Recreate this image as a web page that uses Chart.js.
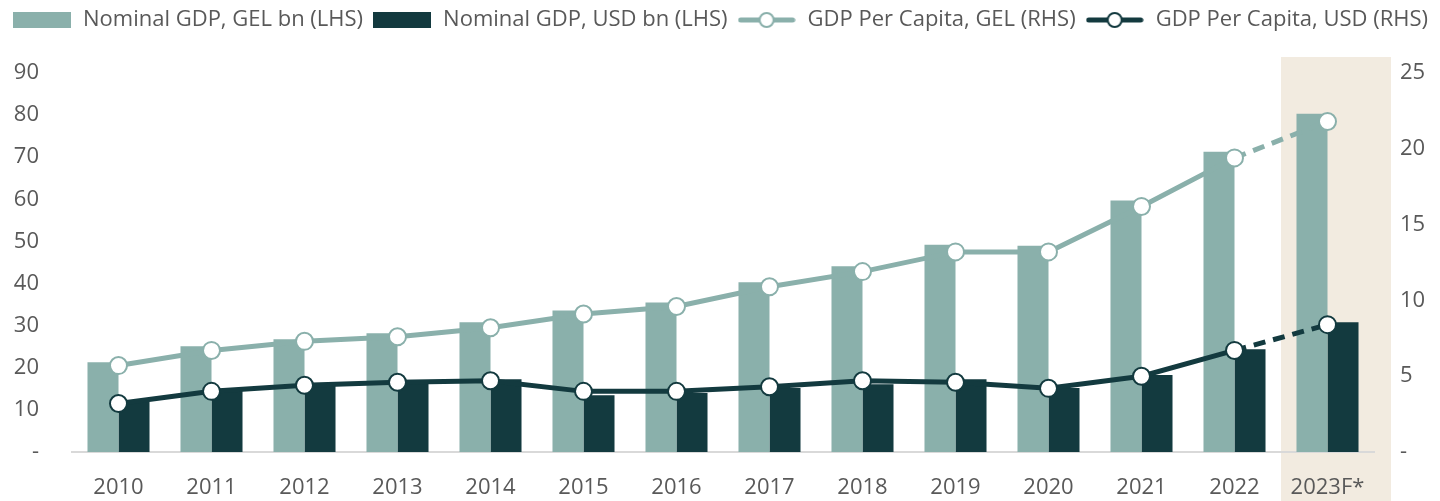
<!DOCTYPE html>
<html>
<head>
<meta charset="utf-8">
<script src="https://cdn.jsdelivr.net/npm/chart.js@4"></script>
<style>
  html, body { margin: 0; padding: 0; background: #fff; }
  #wrap { width: 1440px; height: 501px; }
</style>
</head>
<body>
<div id="wrap"><canvas id="gdpChart"></canvas></div>
<script>
const years = ['2010', '2011', '2012', '2013', '2014', '2015', '2016', '2017', '2018', '2019', '2020', '2021', '2022', '2023F*'];
const gdpGel = [21.3, 25.1, 26.8, 28.2, 30.8, 33.6, 35.5, 40.3, 44.1, 49.2, 49.0, 59.7, 71.3, 80.3];
const gdpUsd = [11.9, 15.0, 16.4, 17.1, 17.3, 13.5, 14.0, 15.2, 16.1, 17.3, 15.2, 18.3, 24.4, 30.8];
const perCapitaGel = [5.7, 6.7, 7.3, 7.6, 8.2, 9.1, 9.6, 10.9, 11.9, 13.2, 13.2, 16.2, 19.4, 21.8];
const perCapitaUsd = [3.2, 4.0, 4.4, 4.6, 4.7, 4.0, 4.0, 4.3, 4.7, 4.6, 4.2, 5.0, 6.7, 8.4];
const leftTicks = [0, 10, 20, 30, 40, 50, 60, 70, 80, 90];
const rightTicks = [0, 5, 10, 15, 20, 25];
const forecastIndex = 13;

const light = '#8AB0AB';
const dark = '#133A3F';
const textColor = '#595959';
const font = '"Open Sans", "Noto Sans", sans-serif';

// legend icons
function barIcon(color) {
    const c = document.createElement('canvas');
    c.width = 58; c.height = 16;
    const g = c.getContext('2d');
    g.fillStyle = color;
    g.fillRect(0, 0, 58, 16);
    return c;
}
function lineIcon(color) {
    const c = document.createElement('canvas');
    c.width = 58; c.height = 18;
    const g = c.getContext('2d');
    g.strokeStyle = color;
    g.lineWidth = 5;
    g.lineCap = 'round';
    g.beginPath();
    g.moveTo(3, 9); g.lineTo(55, 9);
    g.stroke();
    g.beginPath();
    g.arc(29, 9, 7, 0, Math.PI * 2);
    g.fillStyle = '#fff';
    g.fill();
    g.lineWidth = 2;
    g.stroke();
    return c;
}

const forecastShade = {
    id: 'forecastShade',
    afterInit(chart) {
        // leave room under the legend like the original
        const legend = chart.legend;
        const fit = legend.fit;
        legend.fit = function () {
            fit.call(this);
            this.height = 73;
        };
    },
    beforeDraw(chart) {
        const x = chart.scales.x;
        const y = chart.scales.y;
        const ctx = chart.ctx;
        const step = x.getPixelForValue(1) - x.getPixelForValue(0);
        const left = x.getPixelForValue(forecastIndex) - step / 2;
        const right = chart.chartArea.right + 17;
        const top = y.getPixelForValue(90) - 16;
        ctx.save();
        ctx.fillStyle = '#F2EBE0';
        ctx.fillRect(left, top, right - left, chart.height - top);
        ctx.restore();
    }
};

const dashForecast = ctx => ctx.p1DataIndex === forecastIndex ? [12, 8] : undefined;

const icons = [barIcon(light), barIcon(dark), lineIcon(light), lineIcon(dark)];

new Chart(document.getElementById('gdpChart'), {
    data: {
        labels: years,
        datasets: [
            {
                type: 'bar',
                label: 'Nominal GDP, GEL bn (LHS)',
                data: gdpGel,
                backgroundColor: light,
                yAxisID: 'y',
                order: 1,
                categoryPercentage: 0.667,
                barPercentage: 1
            },
            {
                type: 'bar',
                label: 'Nominal GDP, USD bn (LHS)',
                data: gdpUsd,
                backgroundColor: dark,
                yAxisID: 'y',
                order: 1,
                categoryPercentage: 0.667,
                barPercentage: 1
            },
            {
                type: 'line',
                label: 'GDP Per Capita, GEL (RHS)',
                data: perCapitaGel,
                borderColor: light,
                borderWidth: 5,
                pointRadius: 8.5,
                pointBorderWidth: 2,
                pointBackgroundColor: '#fff',
                pointBorderColor: light,
                yAxisID: 'y1',
                order: 0,
                segment: { borderDash: dashForecast }
            },
            {
                type: 'line',
                label: 'GDP Per Capita, USD (RHS)',
                data: perCapitaUsd,
                borderColor: dark,
                borderWidth: 5,
                pointRadius: 8.5,
                pointBorderWidth: 2,
                pointBackgroundColor: '#fff',
                pointBorderColor: dark,
                yAxisID: 'y1',
                order: 0,
                segment: { borderDash: dashForecast }
            }
        ]
    },
    options: {
        responsive: true,
        maintainAspectRatio: false,
        animation: false,
        layout: { padding: 0 },
        plugins: {
            tooltip: { enabled: false },
            legend: {
                position: 'top',
                labels: {
                    usePointStyle: true,
                    pointStyleWidth: 60,
                    padding: 9,
                    color: textColor,
                    font: { family: font, size: 22 },
                    generateLabels(chart) {
                        return chart.data.datasets.map((ds, i) => ({
                            text: ds.label,
                            pointStyle: icons[i],
                            fontColor: textColor,
                            hidden: false,
                            datasetIndex: i,
                            lineWidth: 0
                        }));
                    }
                }
            }
        },
        scales: {
            x: {
                grid: { display: false, drawTicks: false },
                border: { display: true, color: '#D9D9D9', width: 2 },
                ticks: { color: textColor, font: { family: font, size: 22 }, padding: 23 },
                afterFit(axis) { axis.height = 49; }
            },
            y: {
                position: 'left',
                min: 0,
                max: 90,
                afterBuildTicks(axis) { axis.ticks = leftTicks.map(v => ({ value: v })); },
                afterFit(axis) { axis.width = 72; },
                grid: { display: false, drawTicks: false },
                border: { display: false },
                ticks: {
                    color: textColor,
                    font: { family: font, size: 22 },
                    padding: 33,
                    callback: v => v === 0 ? '-' : v
                }
            },
            y1: {
                position: 'right',
                min: 0,
                max: 25,
                afterBuildTicks(axis) { axis.ticks = rightTicks.map(v => ({ value: v })); },
                afterFit(axis) { axis.width = 66; },
                grid: { display: false, drawTicks: false },
                border: { display: false },
                ticks: {
                    color: textColor,
                    font: { family: font, size: 22 },
                    padding: 26,
                    callback: v => v === 0 ? '-' : v
                }
            }
        }
    },
    plugins: [forecastShade]
});
</script>
</body>
</html>
